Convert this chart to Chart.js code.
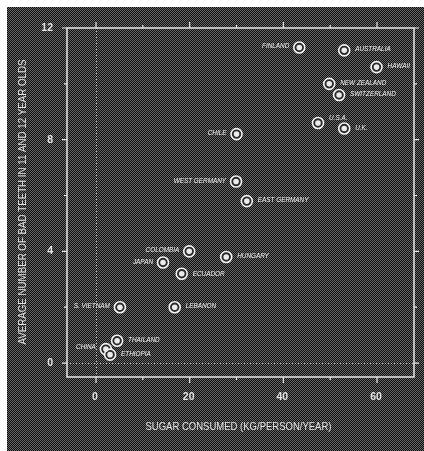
<!DOCTYPE html>
<html>
<head>
<meta charset="utf-8">
<script src="https://cdn.jsdelivr.net/npm/chart.js@4"></script>
<style>
  html, body { margin: 0; padding: 0; background: #fff; }
  canvas { display: block; }
</style>
</head>
<body>
<canvas id="c" width="424" height="451"></canvas>
<script>
// Sugar consumption vs. decayed teeth, by country
const countries = ['FINLAND', 'AUSTRALIA', 'HAWAII', 'NEW ZEALAND', 'SWITZERLAND', 'U.S.A.', 'U.K.',
  'CHILE', 'WEST GERMANY', 'EAST GERMANY', 'COLOMBIA', 'JAPAN', 'ECUADOR', 'HUNGARY',
  'S. VIETNAM', 'LEBANON', 'THAILAND', 'CHINA', 'ETHIOPIA'];
const sugarKg = [43.4, 53.0, 59.9, 49.8, 51.9, 47.4, 53.0, 30.0, 29.9, 32.2, 19.9, 14.3, 18.3, 27.8,
  5.1, 16.8, 4.5, 2.1, 3.0];
const badTeeth = [11.3, 11.2, 10.6, 10.0, 9.6, 8.6, 8.4, 8.2, 6.5, 5.8, 4.0, 3.6, 3.2, 3.8,
  2.0, 2.0, 0.8, 0.5, 0.3];
const xTickLabels = [0, 20, 40, 60];
const yTickLabels = [0, 4, 8, 12];
const xTitle = 'SUGAR CONSUMED (KG/PERSON/YEAR)';
const yTitle = 'AVERAGE NUMBER OF BAD TEETH IN 11 AND 12 YEAR OLDS';

// label placement: side of the marker and a small vertical nudge
const labelSide = ['l', 'r', 'r', 'r', 'r', 'r', 'r', 'l', 'l', 'r', 'l', 'l', 'r', 'r', 'l', 'r', 'r', 'l', 'r'];
const labelNudge = [-2, -1, -1, -1, -1, -5, -1, -1, -1, -1, -1, -1, 0, -1, -1, -1, -1, -2, -1];

const W = 424, H = 451;
const FONT = '"Liberation Sans", Arial, sans-serif';

// dithered dark backdrop
function makePattern(ctx) {
  const t = document.createElement('canvas');
  t.width = 2; t.height = 2;
  const g = t.getContext('2d');
  g.fillStyle = '#101010'; g.fillRect(0, 0, 2, 2);
  g.fillStyle = '#666666'; g.fillRect(0, 0, 1, 1); g.fillRect(1, 1, 1, 1);
  return ctx.createPattern(t, 'repeat');
}

function fitText(ctx, text, cx, cy, width, angle) {
  ctx.save();
  ctx.translate(cx, cy);
  ctx.rotate(angle);
  const w = ctx.measureText(text).width;
  ctx.scale(width / w, 1);
  ctx.textAlign = 'center';
  ctx.textBaseline = 'middle';
  ctx.fillText(text, 0, 0);
  ctx.restore();
}

const framePlugin = {
  id: 'frame',
  beforeDraw(chart) {
    const { ctx, chartArea: a, scales: { x, y } } = chart;
    ctx.save();
    ctx.fillStyle = makePattern(ctx);
    ctx.fillRect(0, 0, W, H);
    ctx.fillStyle = '#fff';
    ctx.fillRect(0, 0, W, 7);
    ctx.fillRect(0, 0, 7, H);

    // dotted zero reference lines
    ctx.strokeStyle = 'rgba(210,210,210,0.85)';
    ctx.lineWidth = 1;
    ctx.setLineDash([1, 2]);
    const x0 = Math.round(x.getPixelForValue(0)) + 0.5;
    const y0 = Math.round(y.getPixelForValue(0)) + 0.5;
    ctx.beginPath();
    ctx.moveTo(x0, a.top); ctx.lineTo(x0, a.bottom);
    ctx.moveTo(a.left, y0); ctx.lineTo(a.right, y0);
    ctx.stroke();
    ctx.setLineDash([]);

    // frame
    ctx.strokeStyle = '#e8e8e8';
    ctx.lineWidth = 1.5;
    ctx.strokeRect(a.left, a.top, a.right - a.left, a.bottom - a.top);

    // ticks on all four sides, pointing outward
    ctx.lineWidth = 1.2;
    ctx.beginPath();
    for (let v = 0; v <= 60; v += 10) {
      const px = x.getPixelForValue(v);
      const len = v % 20 === 0 ? 6 : 3;
      ctx.moveTo(px, a.bottom); ctx.lineTo(px, a.bottom + len);
      ctx.moveTo(px, a.top); ctx.lineTo(px, a.top - len);
    }
    for (let v = 0; v <= 12; v += 2) {
      const py = y.getPixelForValue(v);
      const len = v % 4 === 0 ? 5 : 3;
      ctx.moveTo(a.left, py); ctx.lineTo(a.left - len, py);
      ctx.moveTo(a.right, py); ctx.lineTo(a.right + len, py);
    }
    ctx.stroke();

    // tick labels
    ctx.fillStyle = '#e4e4e4';
    ctx.font = 'bold 10.5px ' + FONT;
    ctx.textBaseline = 'middle';
    ctx.textAlign = 'center';
    xTickLabels.forEach(v => ctx.fillText(String(v), x.getPixelForValue(v) - 1, a.bottom + 20));
    ctx.textAlign = 'right';
    yTickLabels.forEach(v => ctx.fillText(String(v), a.left - 14, y.getPixelForValue(v)));

    // axis titles
    ctx.font = '11px ' + FONT;
    fitText(ctx, xTitle, (a.left + a.right) / 2 - 2, a.bottom + 50, 186, 0);
    fitText(ctx, yTitle, 23, 202, 285, -Math.PI / 2);
    ctx.restore();
  },
  afterDatasetsDraw(chart) {
    const { ctx } = chart;
    const pts = chart.getDatasetMeta(0).data;
    ctx.save();
    ctx.fillStyle = '#f2f2f2';
    ctx.font = 'italic 7.5px ' + FONT;
    ctx.textBaseline = 'middle';
    pts.forEach((p, i) => {
      const t = countries[i];
      const w = ctx.measureText(t).width * 0.85;
      const tx = labelSide[i] === 'r' ? p.x + 11 : p.x - 10 - w;
      ctx.save();
      ctx.translate(tx, p.y + labelNudge[i]);
      ctx.scale(0.85, 1);
      ctx.fillText(t, 0, 0);
      ctx.restore();
    });
    ctx.restore();
  }
};

const points = sugarKg.map((v, i) => ({ x: v, y: badTeeth[i] }));

new Chart(document.getElementById('c'), {
  type: 'scatter',
  data: {
    datasets: [
      { data: points, order: 2, pointRadius: 5.5, backgroundColor: '#2a2a2a', borderColor: '#f4f4f4', borderWidth: 1.6 },
      { data: points, order: 1, pointRadius: 2.8, backgroundColor: '#ececec', borderWidth: 0 }
    ]
  },
  options: {
    responsive: false,
    animation: false,
    layout: { padding: { left: 67, top: 28, right: 10, bottom: 74 } },
    plugins: { legend: { display: false }, tooltip: { enabled: false } },
    scales: {
      x: { type: 'linear', display: false, min: -6.2, max: 67.9 },
      y: { type: 'linear', display: false, min: -0.5, max: 12 }
    }
  },
  plugins: [framePlugin]
});
</script>
</body>
</html>
